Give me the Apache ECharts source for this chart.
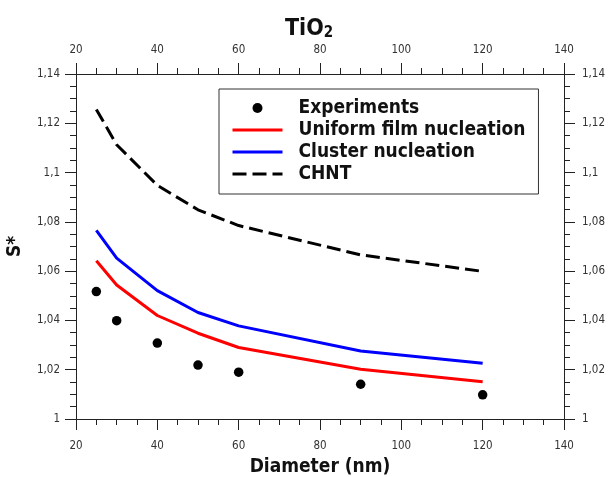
<!DOCTYPE html>
<html>
<head>
<meta charset="utf-8">
<script src="https://cdn.jsdelivr.net/npm/echarts@6/dist/echarts.min.js"></script>
<style>
html,body{margin:0;padding:0;background:#fff;}
#main{width:609px;height:477px;}
</style>
</head>
<body>
<div id="main"></div>
<script>
// diameters (nm)
var diam = [25, 30, 40, 50, 60, 90, 120];
// S* values
var expData = [1.0517, 1.0399, 1.0308, 1.0219, 1.0190, 1.0141, 1.0098];
var uniformData = [1.0642, 1.0544, 1.0420, 1.0348, 1.0290, 1.0202, 1.0151];
var clusterData = [1.0765, 1.0653, 1.0521, 1.0432, 1.0378, 1.0276, 1.0226];
var chntData = [1.1256, 1.1113, 1.0948, 1.0849, 1.0785, 1.0666, 1.0599];

function pairs(ys){
    var out = [];
    for (var i = 0; i < diam.length; i++) {
        out.push([diam[i], ys[i]]);
    }
    return out;
}

var fontAx = 'DejaVu Sans Condensed, DejaVu Sans, sans-serif';
var axColor = '#222';

function yFmt(v){
    return String(Math.round(v*100)/100).replace('.', ',');
}

var xCommon = {
    type: 'value', min: 20, max: 140, interval: 20,
    axisLine: {show: true, onZero: false, lineStyle: {color: axColor, width: 1}},
    axisTick: {show: true, inside: false, length: 11, lineStyle: {color: axColor}},
    minorTick: {show: true, splitNumber: 4, length: 6, lineStyle: {color: axColor}},
    splitLine: {show: false},
    axisLabel: {color: '#333', fontSize: 11.5, fontFamily: fontAx, margin: 21}
};
var yCommon = {
    type: 'value', min: 1, max: 1.14, interval: 0.02,
    axisLine: {show: true, onZero: false, lineStyle: {color: axColor, width: 1}},
    axisTick: {show: true, inside: false, length: 11, lineStyle: {color: axColor}},
    minorTick: {show: true, splitNumber: 4, length: 6, lineStyle: {color: axColor}},
    splitLine: {show: false},
    axisLabel: {color: '#333', fontSize: 11.5, fontFamily: fontAx, formatter: yFmt}
};

var myChart = echarts.init(document.getElementById('main'));
var option = {
    backgroundColor: '#fff',
    animation: false,
    title: {
        text: '{a|TiO}{b|2}',
        left: 280,
        top: 6,
        textStyle: {
            rich: {
                a: {fontSize: 23, fontWeight: 'bold', fontFamily: fontAx, color: '#111', verticalAlign: 'bottom', lineHeight: 30},
                b: {fontSize: 15, fontWeight: 'bold', fontFamily: fontAx, color: '#111', verticalAlign: 'bottom', lineHeight: 22}
            }
        }
    },
    grid: {left: 76, right: 45, top: 74, bottom: 58, outerBoundsMode: 'none', containLabel: false},
    legend: {
        orient: 'vertical',
        left: 219,
        top: 89,
        itemWidth: 50,
        itemHeight: 10,
        itemGap: 2,
        padding: [9, 13, 10, 12],
        borderColor: '#333',
        borderWidth: 1,
        backgroundColor: '#fff',
        lineStyle: {width: 3},
        textStyle: {fontSize: 19, fontWeight: 'bold', fontFamily: fontAx, color: '#111', lineHeight: 20, padding: [0, 0, 0, 11]},
        data: [
            {name: 'Experiments'},
            {name: 'Uniform film nucleation', itemStyle: {opacity: 0}},
            {name: 'Cluster nucleation', itemStyle: {opacity: 0}},
            {name: 'CHNT', itemStyle: {opacity: 0}}
        ]
    },
    xAxis: [
        Object.assign({}, xCommon, {
            position: 'bottom',
            name: 'Diameter (nm)',
            nameLocation: 'middle',
            nameGap: 39,
            nameTextStyle: {fontSize: 19, fontWeight: 'bold', fontFamily: fontAx, color: '#111'}
        }),
        Object.assign({}, xCommon, {position: 'top', axisLabel: Object.assign({}, xCommon.axisLabel, {margin: 18})})
    ],
    yAxis: [
        Object.assign({}, yCommon, {
            position: 'left',
            name: 'S*',
            nameLocation: 'middle',
            nameGap: 51,
            nameTextStyle: {fontSize: 19, fontWeight: 'bold', fontFamily: fontAx, color: '#111'},
            axisLabel: Object.assign({}, yCommon.axisLabel, {margin: 16})
        }),
        Object.assign({}, yCommon, {position: 'right', axisLabel: Object.assign({}, yCommon.axisLabel, {margin: 18})})
    ],
    series: [
        {
            name: 'Experiments', type: 'scatter', symbol: 'circle', symbolSize: 9.5,
            itemStyle: {color: '#000', opacity: 1},
            data: pairs(expData)
        },
        {
            name: 'Uniform film nucleation', type: 'line', symbol: 'none',
            lineStyle: {color: '#ff0000', width: 3},
            itemStyle: {color: '#ff0000'},
            data: pairs(uniformData)
        },
        {
            name: 'Cluster nucleation', type: 'line', symbol: 'none',
            lineStyle: {color: '#0000ff', width: 3},
            itemStyle: {color: '#0000ff'},
            data: pairs(clusterData)
        },
        {
            name: 'CHNT', type: 'line', symbol: 'none',
            lineStyle: {color: '#000', width: 3, type: [14, 6]},
            itemStyle: {color: '#000'},
            data: pairs(chntData)
        }
    ]
};
myChart.setOption(option);
</script>
</body>
</html>
